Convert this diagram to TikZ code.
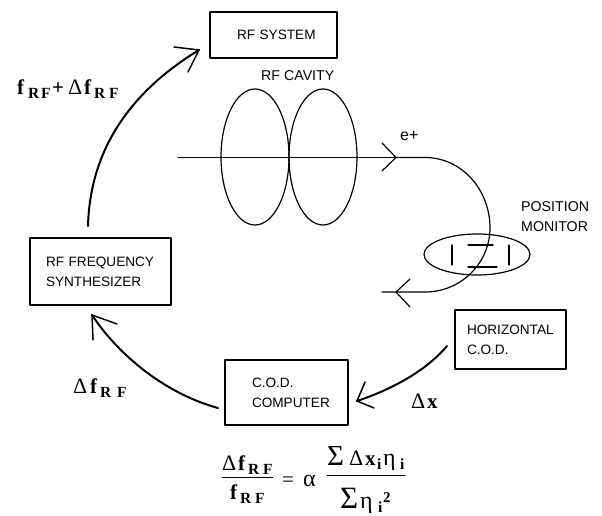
\documentclass[tikz,border=0pt]{standalone}
\usepackage{fontspec}
\usetikzlibrary{shapes.geometric}
\setmainfont{Liberation Sans}
\newfontfamily\serf{Liberation Serif}
\tikzset{
  blockbox/.style={draw=black,line width=1.5pt,fill=white,inner ysep=0pt,align=left,font=\fontsize{13.6}{20}\selectfont},
  lbl/.style={inner sep=0pt,align=left,anchor=west,font=\fontsize{14.2}{20}\selectfont},
  flow/.style={line width=2pt},
  headline/.style={line width=1.5pt},
  thinline/.style={line width=1.2pt},
  mathlbl/.style={inner sep=0pt,anchor=base west,font=\fontsize{21}{21}\selectfont\serf},
}
\newcommand{\gl}[2]{\makebox[#1pt][l]{#2}}
\newcommand{\bld}[1]{{\bfseries #1}}
\newcommand{\sbs}[1]{\raisebox{-4pt}{\fontsize{15.5}{15}\selectfont\bfseries #1}}
\newcommand{\fRF}{\gl{10}{\bld{f}}\gl{15}{\sbs{R}}\sbs{F}}
\newcommand{\dl}{\gl{16}{\fontsize{22}{22}\selectfont Δ}}
\begin{document}
\begin{tikzpicture}[x=1pt,y=-1pt,line cap=round,line join=round]
\useasboundingbox (0,0) rectangle (602,516);
% boxes
\node[blockbox,inner xsep=27pt,text width=73pt,minimum height=46pt] (rfsys) at (273.5,35) {\mbox{RF SYSTEM}};
\node[blockbox,inner xsep=16pt,text width=109pt,minimum height=67pt] (synth) at (100.5,271.5) {\mbox{RF FREQUENCY}\\\mbox{SYNTHESIZER}};
\node[blockbox,inner xsep=27pt,text width=69pt,minimum height=65pt] (comp) at (286.5,392.5) {C.O.D.\\\mbox{COMPUTER}};
\node[blockbox,inner xsep=12pt,text width=87pt,minimum height=59pt] (hcod) at (510.5,339.5) {\mbox{HORIZONTAL}\\C.O.D.};
% cavity
\coordinate (c1) at (255,157);
\coordinate (c2) at (323,157);
\draw[thinline] (c1) ellipse [x radius=34, y radius=68];
\draw[thinline] (c2) ellipse [x radius=34, y radius=68];
\node[lbl] (cavlbl) at (261,76) {RF CAVITY};
% beam
\coordinate (bs) at (178,157.5);
\coordinate (bm) at (396,157.5);
\coordinate (be) at (382,292);
\draw[thinline] (bs) -- (bm);
\draw[thinline] (382,143) -- (bm) -- (382,171);
\draw[thinline] (bm) -- (425,157.5) .. controls (462,157.5) and (490,190) .. (490,228) .. controls (490,262) and (462,292) .. (425,292) -- (be);
\draw[thinline] (410,279) -- (396,292) -- (410,307);
\node[inner sep=0pt,anchor=base west,font=\fontsize{16}{18}\selectfont] (ep) at (400,140) {e+};
% position monitor
\node[draw,thinline,ellipse,minimum width=106pt,minimum height=41pt,inner sep=0pt] (mon) at (477,254.5) {};
\draw[thinline] (452,245)--(452,265) (509,245)--(509,265) (468,245)--(493,245) (468,267)--(497,267);
\node[lbl] (monlbl) at (521,217) {POSITION\\MONITOR};
% arrows
\coordinate (a1s) at (88,226);
\coordinate (a1e) at (199,50);
\draw[flow] (a1s) .. controls (90,150) and (130,92) .. (a1e);
\draw[headline] (174,47) -- (a1e) -- (188,72);
\coordinate (a2s) at (218,408);
\coordinate (a2e) at (92,315);
\draw[flow] (a2s) .. controls (160,392) and (115,350) .. (a2e);
\draw[headline] (93,340) -- (a2e) -- (117,324);
\coordinate (a3s) at (447,346);
\coordinate (a3e) at (357,401);
\draw[flow] (a3s) .. controls (425,372) and (390,390) .. (a3e);
\draw[headline] (365,382) -- (a3e) -- (374,408);
% labels
\node[mathlbl] (l1) at (17,95) {\gl{11}{\bld{f}}\gl{13}{\sbs{R}}\gl{11}{\sbs{F}}\gl{16}{\bld{+}}\dl\fRF};
\node[mathlbl] (l2) at (73,393) {\gl{17}{\fontsize{22}{22}\selectfont Δ}\gl{10}{\bld{f}}\gl{17}{\sbs{R}}\sbs{F}};
\node[mathlbl] (l3) at (411,408) {\dl\bld{x}};
% formula
\node[mathlbl] (n1) at (222,470) {\dl\fRF};
\node[mathlbl] (d1) at (230,499) {\fRF};
\draw[line width=0.9pt] (222,477) -- (273,477);
\node[mathlbl] (eq) at (282,486) {\gl{21}{=}{\fontsize{24}{24}\selectfont α}};
\node[mathlbl] (n2) at (327,465) {\gl{22}{\fontsize{29}{29}\selectfont Σ}\dl\gl{12}{\bld{x}}\gl{6}{\sbs{i}}\gl{17}{\fontsize{24}{24}\selectfont η}\sbs{i}};
\node[mathlbl] (d2) at (340,508) {\gl{20}{\fontsize{31}{31}\selectfont Σ}\gl{18}{\fontsize{24}{24}\selectfont η}\gl{5}{\sbs{i}}\raisebox{6pt}{\fontsize{15}{15}\selectfont\bfseries 2}};
\draw[line width=0.9pt] (327,475) -- (405,475);
\end{tikzpicture}
\end{document}
